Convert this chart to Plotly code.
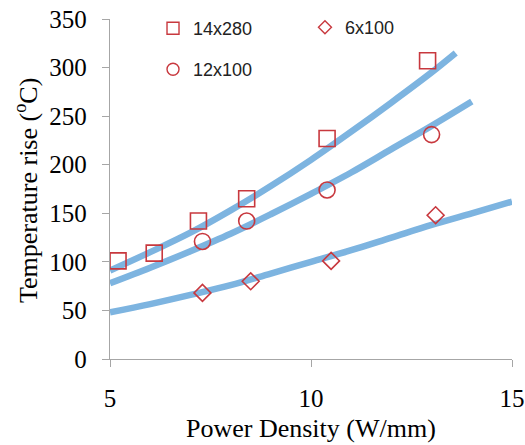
import plotly.graph_objects as go

# Measured points
sq_x = [5.2, 6.1, 7.2, 8.4, 10.4, 12.9]
sq_y = [101, 109, 142, 165, 227, 307]
ci_x = [7.3, 8.4, 10.4, 13.0]
ci_y = [121, 142, 174, 231]
di_x = [7.3, 8.5, 10.5, 13.1]
di_y = [68, 80, 101, 148]

# Fitted curves
fit14_x = [5, 6, 7, 8, 9, 10, 11, 12, 13, 13.6]
fit14_y = [91, 110, 130, 153, 178, 205, 234, 264, 295, 315]
fit12_x = [5, 6, 7, 8, 9, 10, 11, 12, 13, 14]
fit12_y = [78, 94, 111, 129, 149, 170, 192, 216, 240, 265]
fit6_x = [5, 6, 7, 8, 9, 10, 11, 12, 13, 14, 15]
fit6_y = [48, 56.5, 66, 76, 88, 100, 112, 125, 138, 150, 162]

x_ticks = [5, 10, 15]
y_ticks = [0, 50, 100, 150, 200, 250, 300, 350]
x_title = "Power Density (W/mm)"
y_title = "Temperature rise (<sup>o</sup>C)"

RED = "#C8383E"
BLUE = "#7DB4E0"

fig = go.Figure()
for fx, fy in [(fit14_x, fit14_y), (fit12_x, fit12_y), (fit6_x, fit6_y)]:
    fig.add_trace(go.Scatter(x=fx, y=fy, mode="lines", line=dict(color=BLUE, width=6.5, shape="spline"),
                             showlegend=False, hoverinfo="skip"))

for name, xs, ys, sym, size in [("14x280", sq_x, sq_y, "square-open", 16),
                                ("12x100", ci_x, ci_y, "circle-open", 16),
                                ("6x100", di_x, di_y, "diamond-open", 13)]:
    fig.add_trace(go.Scatter(x=xs, y=ys, mode="markers", name=name,
                             marker=dict(symbol=sym, size=size, color=RED, line=dict(color=RED, width=1.6)),
                             showlegend=False))

# legend entries
for name, sym, size, lg in [("14x280", "square-open", 12, "legend"),
                            ("6x100", "diamond-open", 10, "legend2"),
                            ("12x100", "circle-open", 12, "legend3")]:
    fig.add_trace(go.Scatter(x=[None], y=[None], mode="markers", name=name, legend=lg,
                             marker=dict(symbol=sym, size=size, color=RED, line=dict(color=RED, width=1.4))))

legfont = dict(family="Liberation Sans", size=18, color="#222222")
common = dict(xanchor="left", yanchor="top", font=legfont, bgcolor="rgba(0,0,0,0)")
titlefont = dict(family="Liberation Serif", size=26, color="black")
fig.update_layout(
    width=525, height=445,
    margin=dict(l=110, r=13, t=19, b=86, autoexpand=False),
    paper_bgcolor="white", plot_bgcolor="white",
    legend=dict(x=0.107, y=1.0265, **common),
    legend2=dict(x=0.485, y=1.0294, **common),
    legend3=dict(x=0.107, y=0.9059, **common),
    xaxis=dict(range=[5, 15], tickvals=x_ticks, ticktext=[str(v) for v in x_ticks], automargin=False,
               showgrid=False, zeroline=False, showline=True, linecolor="#A6A6A6", linewidth=1.3,
               ticks="outside", ticklen=7, tickcolor="#A6A6A6", tickwidth=1.3, ticklabelstandoff=10,
               tickfont=dict(family="Liberation Serif", size=25, color="black")),
    yaxis=dict(range=[0, 350], tickvals=y_ticks, ticktext=[str(v) for v in y_ticks], automargin=False,
               showgrid=False, zeroline=False, showline=True, linecolor="#A6A6A6", linewidth=1.3,
               ticks="outside", ticklen=7, tickcolor="#A6A6A6", tickwidth=1.3, ticklabelstandoff=10,
               tickfont=dict(family="Liberation Serif", size=25, color="black")),
    annotations=[
        dict(text=x_title, xref="paper", yref="paper", x=0.5, y=-0.203, xanchor="center", yanchor="middle",
             showarrow=False, font=titlefont),
        dict(text=y_title, xref="paper", yref="paper", x=-0.209, y=0.497, xanchor="center", yanchor="middle",
             textangle=-90, showarrow=False, font=titlefont),
    ],
)

fig.write_html("out.html")
